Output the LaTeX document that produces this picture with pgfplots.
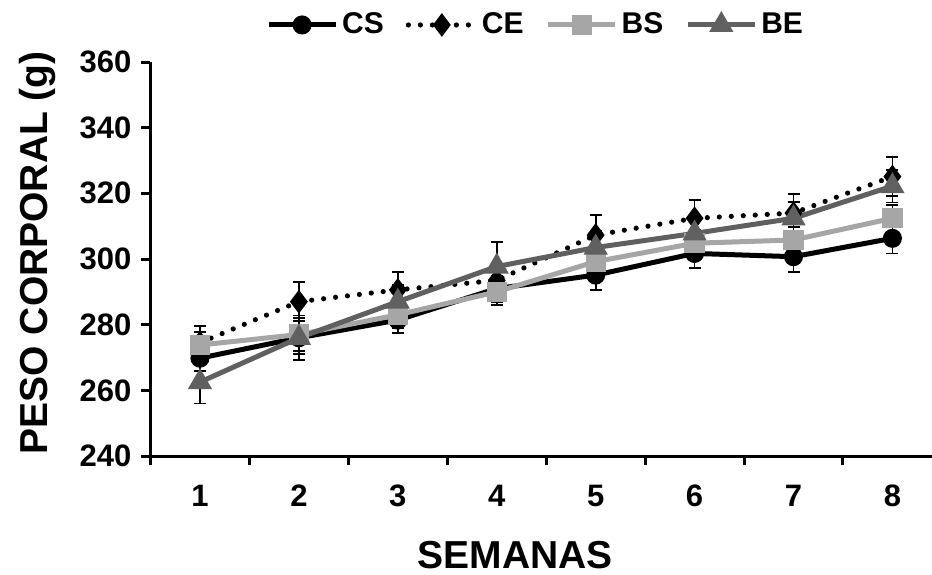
\documentclass[border=0pt]{standalone}
\usepackage{fontspec}
\setmainfont{Liberation Sans}
\usepackage{pgfplots}
\usepackage{pgfplotstable}
\pgfplotsset{compat=1.18}
\definecolor{bsgray}{HTML}{A6A6A6}
\definecolor{begray}{HTML}{606060}
\pgfplotstableread{
x cs cse ce cee bs bse be bee
1 269.8 4.0 274.5 5.0 273.8 4.0 262.5 6.5
2 276.0 5.0 287.0 6.0 277.0 5.0 276.0 6.8
3 281.4 4.0 290.6 5.5 283.0 4.0 287.0 5.0
4 291.0 4.0 293.5 5.0 290.0 4.0 297.7 7.5
5 295.1 4.5 307.3 6.0 299.2 4.0 303.5 5.0
6 301.7 4.5 312.4 5.6 304.8 4.0 307.8 5.0
7 300.7 4.6 314.0 5.8 305.8 4.0 312.4 5.0
8 306.3 4.6 325.1 6.0 312.4 4.0 322.2 5.0
}\data
\begin{document}
\begin{tikzpicture}
\useasboundingbox (-75.25pt,-59pt) rectangle (390.75pt,228pt);
\begin{axis}[
  at={(0,0)}, anchor=south west,
  scale only axis, width=390.75pt, height=197pt,
  xmin=0.5, xmax=8.4, ymin=240, ymax=360,
  clip=false,
  axis lines*=left,
  axis line style={line width=1.5pt, black},
  tick align=outside,
  tick style={line width=1.5pt, black},
  major tick length=4.5pt, minor tick length=4.5pt,
  xtick={1,...,8},
  minor xtick={0.5,1.5,...,7.5},
  major x tick style={draw=none},
  ytick={240,260,...,360},
  /pgf/number format/assume math mode=true,
  ticklabel style={font=\fontsize{15.5}{17}\selectfont\bfseries},
  xticklabel style={yshift=-6.5pt},
  yticklabel style={xshift=-1.5pt},
  xlabel={SEMANAS},
  ylabel={PESO CORPORAL (g)},
  label style={font=\fontsize{19.5}{22}\selectfont\bfseries},
  xlabel style={at={(axis description cs:0.467,-0.252)}, anchor=center, inner sep=0pt},
  ylabel style={at={(axis description cs:-0.144,0.516)}, anchor=center},
  legend columns=4,
  legend style={at={(axis description cs:0.494,1.094)}, anchor=center,
    draw=none, fill=none, font=\fontsize{15}{17}\selectfont\bfseries,
    /tikz/every even column/.append style={column sep=9pt}},
  legend image code/.code={\draw[mark repeat=2,mark phase=2] plot coordinates {(0pt,0pt)(16.75pt,0pt)(33.5pt,0pt)};},
  error bars/error bar style={line width=0.9pt, solid, black},
  error bars/error mark options={rotate=90, mark size=3pt, line width=0.9pt, solid, black},
]
\addplot[black, line width=2.5pt, mark=*, mark size=3.5pt, mark options={solid, fill=black}]
  plot[error bars/.cd, y dir=both, y explicit] table[x=x, y=cs, y error=cse] {\data};
\addlegendentry{CS}
\addplot[black, line width=2.6pt, line cap=round, dash pattern=on 0pt off 6pt, mark=diamond*, mark size=3.8pt, mark options={solid, fill=black}]
  plot[error bars/.cd, y dir=both, y explicit] table[x=x, y=ce, y error=cee] {\data};
\addlegendentry{CE}
\addplot[bsgray, line width=2.5pt, mark=square*, mark size=3.8pt, mark options={solid, fill=bsgray}]
  plot[error bars/.cd, y dir=both, y explicit] table[x=x, y=bs, y error=bse] {\data};
\addlegendentry{BS}
\addplot[begray, line width=2.5pt, mark=triangle*, mark size=4.5pt, mark options={solid, fill=begray}]
  plot[error bars/.cd, y dir=both, y explicit] table[x=x, y=be, y error=bee] {\data};
\addlegendentry{BE}
\end{axis}
\end{tikzpicture}
\end{document}
